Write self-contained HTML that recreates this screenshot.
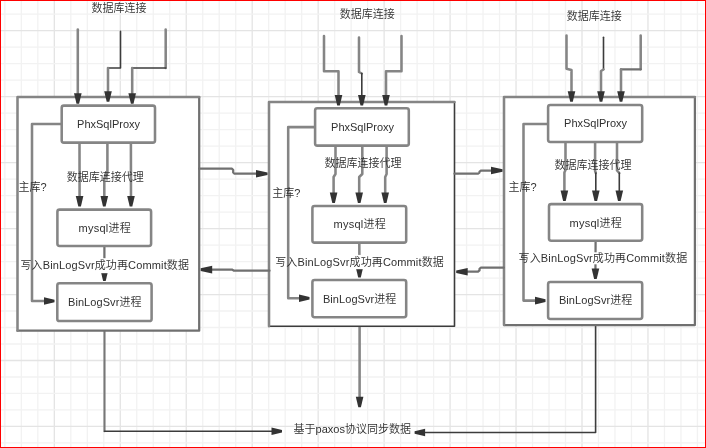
<!DOCTYPE html>
<html lang="zh-CN"><head><meta charset="utf-8"><title>PhxSQL</title>
<style>
html,body{margin:0;padding:0;background:#fff;}
body{width:706px;height:448px;overflow:hidden;}
svg{display:block;}
text{font-family:"Liberation Sans","Noto Sans CJK SC",sans-serif;font-size:11px;font-weight:350;fill:#303030;}
</style></head><body>
<svg width="706" height="448" viewBox="0 0 706 448">
<defs><filter id="soft" x="0" y="0" width="100%" height="100%" filterUnits="userSpaceOnUse" color-interpolation-filters="sRGB"><feGaussianBlur stdDeviation="0.6"/></filter></defs>
<rect width="706" height="448" fill="#fff"/>
<g filter="url(#soft)">
<rect width="706" height="448" fill="#fff"/>
<g stroke-width="1.3"><line x1="4.85" y1="0" x2="4.85" y2="448" stroke="#f2f2f2"/><line x1="21.34" y1="0" x2="21.34" y2="448" stroke="#f2f2f2"/><line x1="37.83" y1="0" x2="37.83" y2="448" stroke="#f2f2f2"/><line x1="54.32" y1="0" x2="54.32" y2="448" stroke="#e4e4e4"/><line x1="70.81" y1="0" x2="70.81" y2="448" stroke="#f2f2f2"/><line x1="87.30" y1="0" x2="87.30" y2="448" stroke="#f2f2f2"/><line x1="103.79" y1="0" x2="103.79" y2="448" stroke="#f2f2f2"/><line x1="120.28" y1="0" x2="120.28" y2="448" stroke="#e4e4e4"/><line x1="136.77" y1="0" x2="136.77" y2="448" stroke="#f2f2f2"/><line x1="153.26" y1="0" x2="153.26" y2="448" stroke="#f2f2f2"/><line x1="169.75" y1="0" x2="169.75" y2="448" stroke="#f2f2f2"/><line x1="186.24" y1="0" x2="186.24" y2="448" stroke="#e4e4e4"/><line x1="202.73" y1="0" x2="202.73" y2="448" stroke="#f2f2f2"/><line x1="219.22" y1="0" x2="219.22" y2="448" stroke="#f2f2f2"/><line x1="235.71" y1="0" x2="235.71" y2="448" stroke="#f2f2f2"/><line x1="252.20" y1="0" x2="252.20" y2="448" stroke="#e4e4e4"/><line x1="268.69" y1="0" x2="268.69" y2="448" stroke="#f2f2f2"/><line x1="285.18" y1="0" x2="285.18" y2="448" stroke="#f2f2f2"/><line x1="301.67" y1="0" x2="301.67" y2="448" stroke="#f2f2f2"/><line x1="318.16" y1="0" x2="318.16" y2="448" stroke="#e4e4e4"/><line x1="334.65" y1="0" x2="334.65" y2="448" stroke="#f2f2f2"/><line x1="351.14" y1="0" x2="351.14" y2="448" stroke="#f2f2f2"/><line x1="367.63" y1="0" x2="367.63" y2="448" stroke="#f2f2f2"/><line x1="384.12" y1="0" x2="384.12" y2="448" stroke="#e4e4e4"/><line x1="400.61" y1="0" x2="400.61" y2="448" stroke="#f2f2f2"/><line x1="417.10" y1="0" x2="417.10" y2="448" stroke="#f2f2f2"/><line x1="433.59" y1="0" x2="433.59" y2="448" stroke="#f2f2f2"/><line x1="450.08" y1="0" x2="450.08" y2="448" stroke="#e4e4e4"/><line x1="466.57" y1="0" x2="466.57" y2="448" stroke="#f2f2f2"/><line x1="483.06" y1="0" x2="483.06" y2="448" stroke="#f2f2f2"/><line x1="499.55" y1="0" x2="499.55" y2="448" stroke="#f2f2f2"/><line x1="516.04" y1="0" x2="516.04" y2="448" stroke="#e4e4e4"/><line x1="532.53" y1="0" x2="532.53" y2="448" stroke="#f2f2f2"/><line x1="549.02" y1="0" x2="549.02" y2="448" stroke="#f2f2f2"/><line x1="565.51" y1="0" x2="565.51" y2="448" stroke="#f2f2f2"/><line x1="582.00" y1="0" x2="582.00" y2="448" stroke="#e4e4e4"/><line x1="598.49" y1="0" x2="598.49" y2="448" stroke="#f2f2f2"/><line x1="614.98" y1="0" x2="614.98" y2="448" stroke="#f2f2f2"/><line x1="631.47" y1="0" x2="631.47" y2="448" stroke="#f2f2f2"/><line x1="647.96" y1="0" x2="647.96" y2="448" stroke="#e4e4e4"/><line x1="664.45" y1="0" x2="664.45" y2="448" stroke="#f2f2f2"/><line x1="680.94" y1="0" x2="680.94" y2="448" stroke="#f2f2f2"/><line x1="697.43" y1="0" x2="697.43" y2="448" stroke="#f2f2f2"/><line x1="0" y1="14.20" x2="706" y2="14.20" stroke="#f2f2f2"/><line x1="0" y1="30.69" x2="706" y2="30.69" stroke="#e4e4e4"/><line x1="0" y1="47.18" x2="706" y2="47.18" stroke="#f2f2f2"/><line x1="0" y1="63.67" x2="706" y2="63.67" stroke="#f2f2f2"/><line x1="0" y1="80.16" x2="706" y2="80.16" stroke="#f2f2f2"/><line x1="0" y1="96.65" x2="706" y2="96.65" stroke="#e4e4e4"/><line x1="0" y1="113.14" x2="706" y2="113.14" stroke="#f2f2f2"/><line x1="0" y1="129.63" x2="706" y2="129.63" stroke="#f2f2f2"/><line x1="0" y1="146.12" x2="706" y2="146.12" stroke="#f2f2f2"/><line x1="0" y1="162.61" x2="706" y2="162.61" stroke="#e4e4e4"/><line x1="0" y1="179.10" x2="706" y2="179.10" stroke="#f2f2f2"/><line x1="0" y1="195.59" x2="706" y2="195.59" stroke="#f2f2f2"/><line x1="0" y1="212.08" x2="706" y2="212.08" stroke="#f2f2f2"/><line x1="0" y1="228.57" x2="706" y2="228.57" stroke="#e4e4e4"/><line x1="0" y1="245.06" x2="706" y2="245.06" stroke="#f2f2f2"/><line x1="0" y1="261.55" x2="706" y2="261.55" stroke="#f2f2f2"/><line x1="0" y1="278.04" x2="706" y2="278.04" stroke="#f2f2f2"/><line x1="0" y1="294.53" x2="706" y2="294.53" stroke="#e4e4e4"/><line x1="0" y1="311.02" x2="706" y2="311.02" stroke="#f2f2f2"/><line x1="0" y1="327.51" x2="706" y2="327.51" stroke="#f2f2f2"/><line x1="0" y1="344.00" x2="706" y2="344.00" stroke="#f2f2f2"/><line x1="0" y1="360.49" x2="706" y2="360.49" stroke="#e4e4e4"/><line x1="0" y1="376.98" x2="706" y2="376.98" stroke="#f2f2f2"/><line x1="0" y1="393.47" x2="706" y2="393.47" stroke="#f2f2f2"/><line x1="0" y1="409.96" x2="706" y2="409.96" stroke="#f2f2f2"/><line x1="0" y1="426.45" x2="706" y2="426.45" stroke="#e4e4e4"/><line x1="0" y1="442.94" x2="706" y2="442.94" stroke="#f2f2f2"/></g>
<polyline points="104.50,321.00 104.50,431.20" fill="none" stroke="#777" stroke-width="2.1" stroke-linejoin="round" stroke-linecap="round"/>
<polyline points="104.50,431.20 274.65,431.20" fill="none" stroke="#3c3c3c" stroke-width="1.6" stroke-linejoin="round" stroke-linecap="round"/>
<polygon points="271.50,435.00 282.00,432.50 282.00,429.90 271.50,427.40" fill="#333"/>
<polyline points="359.60,317.00 359.60,399.85" fill="none" stroke="#858585" stroke-width="2.55" stroke-linejoin="round" stroke-linecap="round"/>
<polygon points="355.80,396.70 358.30,407.20 360.90,407.20 363.40,396.70" fill="#333"/>
<polyline points="595.60,318.70 595.60,432.50 421.95,432.50" fill="none" stroke="#3c3c3c" stroke-width="1.6" stroke-linejoin="round" stroke-linecap="round"/>
<polygon points="425.10,428.70 414.60,431.20 414.60,433.80 425.10,436.30" fill="#333"/>
<rect x="17.5" y="97" width="181.70" height="233.70" rx="1.5" fill="#fff" stroke="none"/>
<polyline points="199.2,97 199.2,330.7 17.5,330.7" fill="none" stroke="#707070" stroke-width="2.25" stroke-linejoin="round" stroke-linecap="round"/>
<polyline points="17.5,330.7 17.5,97 199.2,97" fill="none" stroke="#858585" stroke-width="2.55" stroke-linejoin="round" stroke-linecap="round"/>
<rect x="269" y="102" width="185.50" height="224.20" rx="1.5" fill="#fff" stroke="none"/>
<polyline points="454.5,102 454.5,326.2 269,326.2" fill="none" stroke="#3c3c3c" stroke-width="1.6" stroke-linejoin="round" stroke-linecap="round"/>
<polyline points="269,326.2 269,102 454.5,102" fill="none" stroke="#858585" stroke-width="2.55" stroke-linejoin="round" stroke-linecap="round"/>
<rect x="504" y="97" width="190.90" height="228.00" rx="1.5" fill="#fff" stroke="none"/>
<polyline points="694.9,97 694.9,325 504,325" fill="none" stroke="#707070" stroke-width="2.25" stroke-linejoin="round" stroke-linecap="round"/>
<polyline points="504,325 504,97 694.9,97" fill="none" stroke="#858585" stroke-width="2.55" stroke-linejoin="round" stroke-linecap="round"/>
<polyline points="77.80,29.60 77.80,96.35" fill="none" stroke="#858585" stroke-width="2.55" stroke-linejoin="round" stroke-linecap="round"/>
<polygon points="74.00,93.20 76.50,103.70 79.10,103.70 81.60,93.20" fill="#333"/>
<polyline points="120.50,31.40 120.50,68.00 108.00,68.00" fill="none" stroke="#3c3c3c" stroke-width="1.6" stroke-linejoin="round" stroke-linecap="round"/>
<polyline points="108.00,68.00 108.00,94.45" fill="none" stroke="#858585" stroke-width="2.55" stroke-linejoin="round" stroke-linecap="round"/>
<polygon points="104.20,91.30 106.70,101.80 109.30,101.80 111.80,91.30" fill="#333"/>
<polyline points="165.70,29.60 165.70,68.00" fill="none" stroke="#858585" stroke-width="2.55" stroke-linejoin="round" stroke-linecap="round"/>
<polyline points="165.70,68.00 132.20,68.00" fill="none" stroke="#3c3c3c" stroke-width="1.6" stroke-linejoin="round" stroke-linecap="round"/>
<polyline points="132.20,68.00 132.20,96.35" fill="none" stroke="#858585" stroke-width="2.55" stroke-linejoin="round" stroke-linecap="round"/>
<polygon points="128.40,93.20 130.90,103.70 133.50,103.70 136.00,93.20" fill="#333"/>
<polyline points="61.50,124.00 32.00,124.00 32.00,301.00 47.15,301.00" fill="none" stroke="#858585" stroke-width="2.55" stroke-linejoin="round" stroke-linecap="round"/>
<polygon points="44.00,304.80 54.50,302.30 54.50,299.70 44.00,297.20" fill="#333"/>
<polyline points="79.50,143.00 79.59,199.15" fill="none" stroke="#858585" stroke-width="2.55" stroke-linejoin="round" stroke-linecap="round"/>
<polygon points="75.78,196.01 78.30,206.50 80.90,206.50 83.38,195.99" fill="#333"/>
<polyline points="107.40,143.00 107.40,173.00 104.30,178.50 104.30,199.15" fill="none" stroke="#858585" stroke-width="2.55" stroke-linejoin="round" stroke-linecap="round"/>
<polygon points="100.50,196.00 103.00,206.50 105.60,206.50 108.10,196.00" fill="#333"/>
<polyline points="130.90,143.00 130.99,199.15" fill="none" stroke="#858585" stroke-width="2.55" stroke-linejoin="round" stroke-linecap="round"/>
<polygon points="127.18,196.01 129.70,206.50 132.30,206.50 134.78,195.99" fill="#333"/>
<polyline points="104.40,246.00 104.40,273.65" fill="none" stroke="#707070" stroke-width="2.25" stroke-linejoin="round" stroke-linecap="round"/>
<polygon points="100.60,270.50 103.10,281.00 105.70,281.00 108.20,270.50" fill="#333"/>
<rect x="98" y="258.2" width="13" height="15" fill="#fff"/>
<rect x="61.7" y="105.6" width="93.30" height="37.00" rx="2.2" fill="#fff" stroke="#858585" stroke-width="2.55"/>
<rect x="57.4" y="209.6" width="93.70" height="36.40" rx="2.2" fill="#fff" stroke="#858585" stroke-width="2.55"/>
<rect x="57.3" y="283.3" width="94.30" height="37.80" rx="2.2" fill="#fff" stroke="#858585" stroke-width="2.55"/>
<polyline points="324.00,36.00 324.00,71.20 338.50,71.20 338.50,98.15" fill="none" stroke="#858585" stroke-width="2.55" stroke-linejoin="round" stroke-linecap="round"/>
<polygon points="334.70,95.00 337.20,105.50 339.80,105.50 342.30,95.00" fill="#333"/>
<polyline points="359.00,37.50 359.00,72.00 361.80,73.50" fill="none" stroke="#858585" stroke-width="2.55" stroke-linejoin="round" stroke-linecap="round"/>
<polyline points="361.80,73.50 361.80,98.15" fill="none" stroke="#3c3c3c" stroke-width="1.6" stroke-linejoin="round" stroke-linecap="round"/>
<polygon points="358.00,95.00 360.50,105.50 363.10,105.50 365.60,95.00" fill="#333"/>
<polyline points="401.50,36.00 401.50,71.20 386.00,71.20 386.00,98.15" fill="none" stroke="#858585" stroke-width="2.55" stroke-linejoin="round" stroke-linecap="round"/>
<polygon points="382.20,95.00 384.70,105.50 387.30,105.50 389.80,95.00" fill="#333"/>
<polyline points="315.20,127.10 288.20,127.10 288.20,298.30 302.15,298.30" fill="none" stroke="#858585" stroke-width="2.55" stroke-linejoin="round" stroke-linecap="round"/>
<polygon points="299.00,302.10 309.50,299.60 309.50,297.00 299.00,294.50" fill="#333"/>
<polyline points="335.50,145.50 335.50,174.00 333.60,177.00 333.60,195.65" fill="none" stroke="#858585" stroke-width="2.55" stroke-linejoin="round" stroke-linecap="round"/>
<polygon points="329.80,192.50 332.30,203.00 334.90,203.00 337.40,192.50" fill="#333"/>
<polyline points="362.30,145.50 362.30,174.00 359.20,177.00 359.20,195.65" fill="none" stroke="#858585" stroke-width="2.55" stroke-linejoin="round" stroke-linecap="round"/>
<polygon points="355.40,192.50 357.90,203.00 360.50,203.00 363.00,192.50" fill="#333"/>
<polyline points="386.60,145.50 386.60,174.00 385.20,177.00 385.20,195.65" fill="none" stroke="#858585" stroke-width="2.55" stroke-linejoin="round" stroke-linecap="round"/>
<polygon points="381.40,192.50 383.90,203.00 386.50,203.00 389.00,192.50" fill="#333"/>
<polyline points="359.30,242.50 359.46,270.15" fill="none" stroke="#858585" stroke-width="2.55" stroke-linejoin="round" stroke-linecap="round"/>
<polygon points="355.64,267.02 358.20,277.51 360.80,277.49 363.24,266.98" fill="#333"/>
<rect x="352" y="254.9" width="13" height="14.3" fill="#fff"/>
<rect x="315.1" y="108.2" width="93.70" height="37.40" rx="2.2" fill="#fff" stroke="#858585" stroke-width="2.55"/>
<rect x="312.4" y="206" width="93.80" height="36.60" rx="2.2" fill="#fff" stroke="#858585" stroke-width="2.55"/>
<rect x="312.4" y="280" width="93.80" height="37.20" rx="2.2" fill="#fff" stroke="#858585" stroke-width="2.55"/>
<polyline points="566.50,35.50 566.50,68.80 571.50,70.00 571.50,94.35" fill="none" stroke="#858585" stroke-width="2.55" stroke-linejoin="round" stroke-linecap="round"/>
<polygon points="567.70,91.20 570.20,101.70 572.80,101.70 575.30,91.20" fill="#333"/>
<polyline points="603.50,37.30 603.50,69.50" fill="none" stroke="#3c3c3c" stroke-width="1.6" stroke-linejoin="round" stroke-linecap="round"/>
<polyline points="603.50,69.50 601.00,71.00 601.00,94.35" fill="none" stroke="#858585" stroke-width="2.55" stroke-linejoin="round" stroke-linecap="round"/>
<polygon points="597.20,91.20 599.70,101.70 602.30,101.70 604.80,91.20" fill="#333"/>
<polyline points="640.70,35.50 640.70,69.30" fill="none" stroke="#858585" stroke-width="2.55" stroke-linejoin="round" stroke-linecap="round"/>
<polyline points="640.70,69.30 621.00,69.30" fill="none" stroke="#707070" stroke-width="2.25" stroke-linejoin="round" stroke-linecap="round"/>
<polyline points="621.00,69.30 621.00,94.35" fill="none" stroke="#858585" stroke-width="2.55" stroke-linejoin="round" stroke-linecap="round"/>
<polygon points="617.20,91.20 619.70,101.70 622.30,101.70 624.80,91.20" fill="#333"/>
<polyline points="548.00,124.00 523.50,124.00 523.50,300.60 538.15,300.60" fill="none" stroke="#858585" stroke-width="2.55" stroke-linejoin="round" stroke-linecap="round"/>
<polygon points="535.00,304.40 545.50,301.90 545.50,299.30 535.00,296.80" fill="#333"/>
<polyline points="565.50,142.50 565.50,170.00 564.40,172.50 564.40,193.65" fill="none" stroke="#858585" stroke-width="2.55" stroke-linejoin="round" stroke-linecap="round"/>
<polygon points="560.60,190.50 563.10,201.00 565.70,201.00 568.20,190.50" fill="#333"/>
<polyline points="595.10,142.50 595.10,171.00 595.80,173.00" fill="none" stroke="#858585" stroke-width="2.55" stroke-linejoin="round" stroke-linecap="round"/>
<polyline points="595.80,173.00 595.80,193.65" fill="none" stroke="#3c3c3c" stroke-width="1.6" stroke-linejoin="round" stroke-linecap="round"/>
<polygon points="592.00,190.50 594.50,201.00 597.10,201.00 599.60,190.50" fill="#333"/>
<polyline points="617.00,142.50 617.00,170.50 619.30,173.00" fill="none" stroke="#858585" stroke-width="2.55" stroke-linejoin="round" stroke-linecap="round"/>
<polyline points="619.30,173.00 619.30,193.65" fill="none" stroke="#3c3c3c" stroke-width="1.6" stroke-linejoin="round" stroke-linecap="round"/>
<polygon points="615.50,190.50 618.00,201.00 620.60,201.00 623.10,190.50" fill="#333"/>
<polyline points="595.60,241.20 595.44,271.65" fill="none" stroke="#707070" stroke-width="2.25" stroke-linejoin="round" stroke-linecap="round"/>
<polygon points="591.66,268.48 594.10,278.99 596.70,279.01 599.26,268.52" fill="#333"/>
<rect x="589" y="252.3" width="13" height="12" fill="#fff"/>
<rect x="548.1" y="105" width="94.10" height="37.00" rx="2.2" fill="#fff" stroke="#858585" stroke-width="2.55"/>
<rect x="549" y="204.1" width="93.20" height="36.70" rx="2.2" fill="#fff" stroke="#858585" stroke-width="2.55"/>
<rect x="548.1" y="282" width="94.10" height="37.00" rx="2.2" fill="#fff" stroke="#858585" stroke-width="2.55"/>
<polyline points="199.20,168.70 232.00,168.70 233.20,170.00 233.20,172.50 234.50,173.70 259.45,173.70" fill="none" stroke="#707070" stroke-width="2.25" stroke-linejoin="round" stroke-linecap="round"/>
<polygon points="256.00,177.50 267.50,175.00 267.50,172.40 256.00,169.90" fill="#333"/>
<polyline points="269.50,270.70 234.00,270.70 232.00,269.60 208.75,269.60" fill="none" stroke="#707070" stroke-width="2.25" stroke-linejoin="round" stroke-linecap="round"/>
<polygon points="212.20,265.80 200.70,268.30 200.70,270.90 212.20,273.40" fill="#333"/>
<polyline points="454.50,173.70 477.80,173.70 479.50,172.60 479.50,171.60 481.20,170.50 494.45,170.50" fill="none" stroke="#707070" stroke-width="2.25" stroke-linejoin="round" stroke-linecap="round"/>
<polygon points="491.00,174.30 502.50,171.80 502.50,169.20 491.00,166.70" fill="#333"/>
<polyline points="503.70,267.50 481.00,267.50 479.50,268.80 479.50,270.40 478.00,271.70 464.25,271.70" fill="none" stroke="#707070" stroke-width="2.25" stroke-linejoin="round" stroke-linecap="round"/>
<polygon points="467.70,267.90 456.20,270.40 456.20,273.00 467.70,275.50" fill="#333"/>
<text x="119.00" y="12.20" text-anchor="middle">数据库连接</text>
<text x="108.55" y="127.90" text-anchor="middle">PhxSqlProxy</text>
<text x="105.25" y="180.70" text-anchor="middle">数据库连接代理</text>
<text x="32.60" y="191.20" text-anchor="middle">主库?</text>
<text x="104.78" y="231.50" text-anchor="middle" letter-spacing="0.25">mysql进程</text>
<text x="104.77" y="269.20" text-anchor="middle" letter-spacing="0.14">写入BinLogSvr成功再Commit数据</text>
<text x="104.78" y="306.20" text-anchor="middle" letter-spacing="0.07">BinLogSvr进程</text>
<text x="367.35" y="18.40" text-anchor="middle">数据库连接</text>
<text x="362.55" y="130.90" text-anchor="middle">PhxSqlProxy</text>
<text x="363.10" y="167.30" text-anchor="middle">数据库连接代理</text>
<text x="286.40" y="197.30" text-anchor="middle">主库?</text>
<text x="359.77" y="227.70" text-anchor="middle" letter-spacing="0.25">mysql进程</text>
<text x="359.57" y="265.90" text-anchor="middle" letter-spacing="0.14">写入BinLogSvr成功再Commit数据</text>
<text x="359.69" y="302.70" text-anchor="middle" letter-spacing="0.07">BinLogSvr进程</text>
<text x="594.35" y="20.20" text-anchor="middle">数据库连接</text>
<text x="595.55" y="126.60" text-anchor="middle">PhxSqlProxy</text>
<text x="593.10" y="168.70" text-anchor="middle">数据库连接代理</text>
<text x="522.60" y="191.20" text-anchor="middle">主库?</text>
<text x="595.77" y="226.80" text-anchor="middle" letter-spacing="0.25">mysql进程</text>
<text x="602.92" y="262.00" text-anchor="middle" letter-spacing="0.14">写入BinLogSvr成功再Commit数据</text>
<text x="595.69" y="303.70" text-anchor="middle" letter-spacing="0.07">BinLogSvr进程</text>
<text x="352.30" y="432.60" text-anchor="middle">基于paxos协议同步数据</text>
</g>
<rect x="0.5" y="0.5" width="705" height="447" fill="none" stroke="#ff0000" stroke-width="1"/>
</svg>
</body></html>
